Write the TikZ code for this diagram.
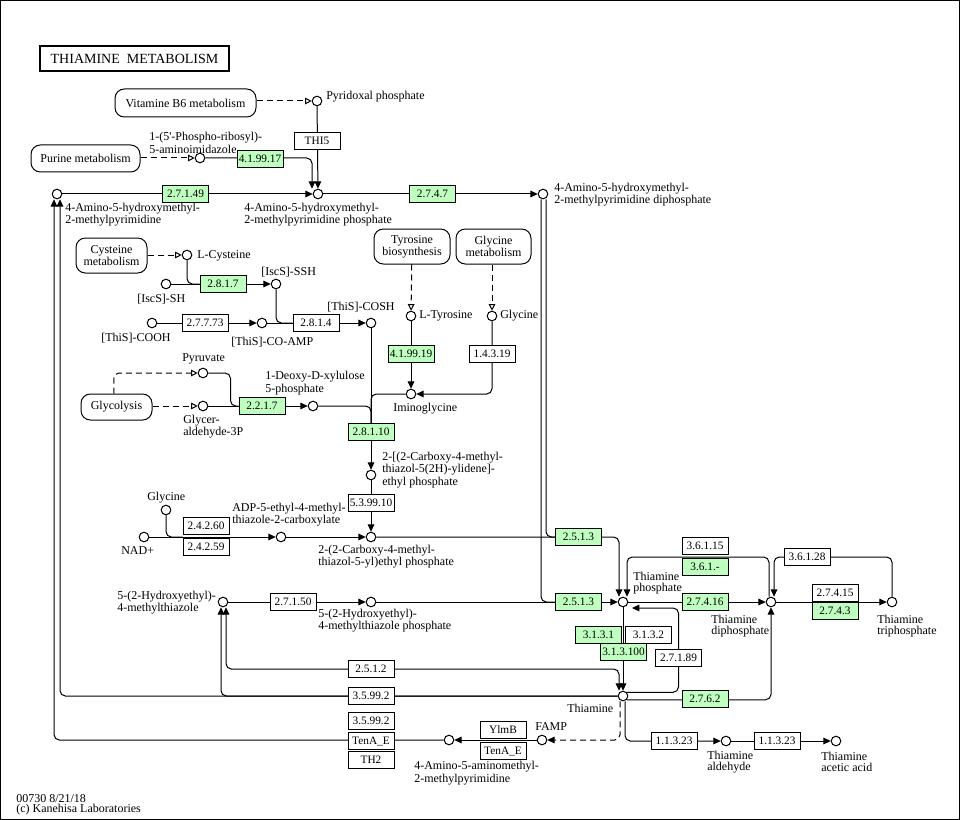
\documentclass[tikz,border=0pt]{standalone}
\usepackage{fontspec}
\setmainfont{Liberation Serif}
\usetikzlibrary{arrows.meta}
\definecolor{kgreen}{HTML}{BFFFBF}
\pgfdeclarelayer{bg}
\pgfsetlayers{bg,main}
\begin{document}
\begin{tikzpicture}[x=0.75pt,y=-0.75pt,
  every node/.style={inner sep=0pt},
  cpd/.style={circle,draw,line width=0.75pt,fill=white,minimum size=7.2pt},
  enz/.style={draw,line width=0.75pt,fill=white,minimum width=34.5pt,minimum height=12.5pt,font=\fontsize{8.5}{9}\selectfont},
  genz/.style={enz,fill=kgreen},
  pmap/.style={draw,line width=0.75pt,rounded corners=7pt,align=center,font=\fontsize{9}{7.8}\selectfont},
  lbl/.style={anchor=west,align=left,font=\fontsize{9}{7.8}\selectfont},
  conn/.style={line width=0.75pt,rounded corners=4pt},
  arr/.style={conn,-{Triangle[length=5.5pt,width=5pt]}},
  barr/.style={conn,{Triangle[length=5.5pt,width=5pt]}-{Triangle[length=5.5pt,width=5pt]}},
  dashl/.style={conn,dash pattern=on 4.5pt off 3pt},
  darr/.style={dashl,-{Triangle[open,length=5pt,width=5pt]}},
  dfarr/.style={dashl,-{Triangle[length=5.5pt,width=5pt]}},
]
\useasboundingbox (0,0) rectangle (960,820);
\draw[line width=0.75pt] (0.5,0.5) rectangle (959.5,819.5);

% title
\node[draw,line width=1.5pt,minimum width=141.75pt,minimum height=18.75pt,font=\fontsize{10.5}{12}\selectfont] (title) at (134.5,58.5) {THIAMINE\ \ METABOLISM};

% maps
\node[pmap,minimum width=105.75pt,minimum height=21pt] (vb6) at (185.5,103) {Vitamine B6 metabolism};
\node[pmap,minimum width=81.75pt,minimum height=20.25pt] (purine) at (85.5,158.5) {Purine metabolism};
\node[pmap,minimum width=53.25pt,minimum height=26.25pt] (cysm) at (111.5,255.5) {Cysteine\\metabolism};
\node[pmap,minimum width=57pt,minimum height=26.25pt] (tyrb) at (412,246.5) {Tyrosine\\biosynthesis};
\node[pmap,minimum width=56.25pt,minimum height=26.25pt] (glym) at (493.5,246.5) {Glycine\\metabolism};
\node[pmap,minimum width=53.25pt,minimum height=19.5pt] (glyco) at (116.5,407) {Glycolysis};

% compounds
\node[cpd] (pyr) at (317,101) {};
\node[cpd] (pra) at (200,158) {};
\node[cpd] (hmp) at (57,194) {};
\node[cpd] (hmpp) at (318,194) {};
\node[cpd] (hmppp) at (543,194) {};
\node[cpd] (cys) at (187,255) {};
\node[cpd] (iscsh) at (166,284) {};
\node[cpd] (iscssh) at (276,284) {};
\node[cpd] (thiscooh) at (152,323) {};
\node[cpd] (thisamp) at (262,323) {};
\node[cpd] (thiscosh) at (371,323) {};
\node[cpd] (tyr) at (411,316) {};
\node[cpd] (gly1) at (492,316) {};
\node[cpd] (imgly) at (411,394) {};
\node[cpd] (pyruv) at (203,373) {};
\node[cpd] (gap) at (203,406) {};
\node[cpd] (dxp) at (313,406) {};
\node[cpd] (cmtp) at (371,475) {};
\node[cpd] (gly2) at (166,510) {};
\node[cpd] (nad) at (144,537) {};
\node[cpd] (adp) at (281,537) {};
\node[cpd] (cthz) at (371,537) {};
\node[cpd] (hthz) at (223,602) {};
\node[cpd] (hthzp) at (371,602) {};
\node[cpd] (tmp) at (623,602) {};
\node[cpd] (tdp) at (771,602) {};
\node[cpd] (ttp) at (892,602) {};
\node[cpd] (thi) at (623,696) {};
\node[cpd] (famp) at (542,740) {};
\node[cpd] (amp) at (449,740) {};
\node[cpd] (tald) at (726,741) {};
\node[cpd] (tacid) at (836,741) {};

% enzymes
\node[enz] (thi5) at (317,141) {THI5};
\node[genz] (e419917) at (260,159) {4.1.99.17};
\node[genz] (e27149) at (185.5,194) {2.7.1.49};
\node[genz] (e2747) at (432.5,194) {2.7.4.7};
\node[genz] (e2817) at (223,284) {2.8.1.7};
\node[enz] (e27773) at (205,323) {2.7.7.73};
\node[enz] (e2814) at (316,323) {2.8.1.4};
\node[genz] (e419919) at (411,354) {4.1.99.19};
\node[enz] (e14319) at (492,354) {1.4.3.19};
\node[genz] (e2217) at (262,406) {2.2.1.7};
\node[genz] (e28110) at (371,432) {2.8.1.10};
\node[enz] (e53910) at (371,503) {5.3.99.10};
\node[enz] (e24260) at (206,526) {2.4.2.60};
\node[enz] (e24259) at (206,547) {2.4.2.59};
\node[genz] (e2513a) at (578.5,537) {2.5.1.3};
\node[enz] (e27150) at (293,602) {2.7.1.50};
\node[genz] (e2513b) at (578.5,602) {2.5.1.3};
\node[enz] (e36115) at (705,546) {3.6.1.15};
\node[genz] (e361m) at (705,567) {3.6.1.-};
\node[genz] (e27416) at (705,602) {2.7.4.16};
\node[enz] (e36128) at (807,557) {3.6.1.28};
\node[enz] (e27415) at (835,593) {2.7.4.15};
\node[genz] (e2743) at (835,611) {2.7.4.3};
\node[genz] (e3131) at (598.5,635) {3.1.3.1};
\node[enz] (e3132) at (648.5,635) {3.1.3.2};
\node[genz] (e313100) at (623.5,652) {3.1.3.100};
\node[enz] (e2789) at (678.5,658) {2.7.1.89};
\node[enz] (e2512) at (371,669) {2.5.1.2};
\node[enz] (e35992a) at (371,696) {3.5.99.2};
\node[enz] (e35992b) at (371,721) {3.5.99.2};
\node[enz] (tena1) at (371,741) {TenA\_E};
\node[enz] (th2) at (371,760) {TH2};
\node[enz] (ylmb) at (503,730) {YlmB};
\node[enz] (tena2) at (503,751) {TenA\_E};
\node[genz] (e2762) at (705,699) {2.7.6.2};
\node[enz] (e11323a) at (674,741) {1.1.3.23};
\node[enz] (e11323b) at (777,741) {1.1.3.23};

% labels
\node[lbl] at (326,97) {Pyridoxal phosphate};
\node[lbl] at (149,143) {1-(5\textquotesingle-Phospho-ribosyl)-\\5-aminoimidazole};
\node[lbl] at (65,215) {4-Amino-5-hydroxymethyl-\\2-methylpyrimidine};
\node[lbl] at (244,215) {4-Amino-5-hydroxymethyl-\\2-methylpyrimidine phosphate};
\node[lbl] at (554,195) {4-Amino-5-hydroxymethyl-\\2-methylpyrimidine diphosphate};
\node[lbl] at (197,256) {L-Cysteine};
\node[lbl] at (137,299) {[IscS]-SH};
\node[lbl] at (261,272) {[IscS]-SSH};
\node[lbl] at (101,338) {[ThiS]-COOH};
\node[lbl] at (231,342) {[ThiS]-CO-AMP};
\node[lbl] at (327,307) {[ThiS]-COSH};
\node[lbl] at (419,316) {L-Tyrosine};
\node[lbl] at (500,316) {Glycine};
\node[lbl] at (393,409) {Iminoglycine};
\node[lbl] at (182,359) {Pyruvate};
\node[lbl] at (265,383) {1-Deoxy-D-xylulose\\5-phosphate};
\node[lbl] at (183,427) {Glycer-\\aldehyde-3P};
\node[lbl] at (382,470) {2-[(2-Carboxy-4-methyl-\\thiazol-5(2H)-ylidene]-\\ethyl phosphate};
\node[lbl] at (147,498) {Glycine};
\node[lbl] at (121,551) {NAD+};
\node[lbl] at (232,515) {ADP-5-ethyl-4-methyl-\\thiazole-2-carboxylate};
\node[lbl] at (318,557) {2-(2-Carboxy-4-methyl-\\thiazol-5-yl)ethyl phosphate};
\node[lbl] at (117,603) {5-(2-Hydroxyethyl)-\\4-methylthiazole};
\node[lbl] at (318,621) {5-(2-Hydroxyethyl)-\\4-methylthiazole phosphate};
\node[lbl] at (633,583) {Thiamine\\phosphate};
\node[lbl] at (711,626) {Thiamine\\diphosphate};
\node[lbl] at (877,626) {Thiamine\\triphosphate};
\node[lbl] at (567,708) {Thiamine};
\node[lbl] at (535,727) {FAMP};
\node[lbl] at (414,773) {4-Amino-5-aminomethyl-\\2-methylpyrimidine};
\node[lbl] at (707,762) {Thiamine\\aldehyde};
\node[lbl] at (821,762) {Thiamine\\acetic acid};
\node[lbl] at (16,799) {00730 8/21/18};
\node[lbl] at (16,810) {(c) Kanehisa Laboratories};

\coordinate (k2512) at (619,669);
\coordinate (k36115) at (700,557);
\coordinate (k36128) at (835,557);
\coordinate (k2789) at (678.5,608);
\coordinate (t2789) at (632,608);

\begin{pgfonlayer}{bg}
\draw[darr] (vb6.east |- pyr) -- (pyr);
\draw[darr] (purine.east |- pra) -- (pra);
\draw[arr] (pyr) -- (hmpp);
\draw[arr] (pra) -| ([xshift=-4.5pt]hmpp.north);
\draw[arr] (hmp) -- (hmpp);
\draw[arr] (hmpp) -- (hmppp);
\draw[arr] (amp) -| ([xshift=-2.25pt]hmp.south);
\draw[arr] (thi) -| ([xshift=2.25pt]hmp.south);
\draw[arr] (thi) -| ([xshift=-1.5pt]hthz.south);
\draw[barr] ([xshift=2.25pt]hthz.south) |- (k2512) -- ([xshift=-3pt]thi.north);
\draw[darr] (cysm.east |- cys) -- (cys);
\draw[conn] (cys) |- (e2817.west);
\draw[arr] (iscsh) -- (iscssh);
\draw[arr] (thiscooh) -- (thisamp);
\draw[conn] (iscssh) |- (e2814.west);
\draw[arr] (thisamp) -- (thiscosh);
\draw[arr] (thiscosh) -- (cmtp);
\draw[darr] (tyrb) -- (tyr);
\draw[arr] (tyr) -- (imgly);
\draw[darr] (glym.south -| gly1) -- (gly1);
\draw[arr] (gly1) |- (imgly);
\draw[conn] (imgly) -| (e28110.north);
\draw[conn] (dxp) -| (e28110.north);
\draw[darr] (glyco.east |- gap) -- (gap);
\draw[darr] ([xshift=-2pt]glyco.north) |- (pyruv);
\draw[arr] (gap) -- (dxp);
\draw[conn] (pyruv) -| ([xshift=-6pt]e2217.west) -- (e2217.west);
\draw[arr] (cmtp) -- (cthz);
\draw[arr] (nad) -- (adp);
\draw[conn] (gly2) |- (e24260.west |- nad);
\draw[arr] (adp) -- (cthz);
\draw[arr] (cthz) -| ([xshift=-3pt]tmp.north);
\draw[arr] (hthz) -- (hthzp);
\draw[arr] (hthzp) -- (tmp);
\draw[conn] ([xshift=2.25pt]hmppp.south) |- (e2513a.west);
\draw[conn] ([xshift=-1.5pt]hmppp.south) |- (e2513b.west);
\draw[arr] (tmp) -- (tdp);
\draw[arr] ([xshift=-1.5pt]tdp.north) |- (k36115) -| ([xshift=3pt]tmp.north);
\draw[arr] (ttp) |- (k36128) -| ([xshift=2.25pt]tdp.north);
\draw[arr] (tdp) -- (ttp);
\draw[arr] (thi.north east) -| (k2789) -- (t2789);
\draw[arr] (thi.south east) -| (tdp);
\draw[arr] (tmp) -- (thi);
\draw[dfarr] ([xshift=-2.25pt]thi.south) |- (famp);
\draw[arr] (famp) -- (amp);
\draw[arr] ([xshift=1.5pt]thi.south) |- (tald);
\draw[arr] (tald) -- (tacid);
\end{pgfonlayer}
\end{tikzpicture}
\end{document}
